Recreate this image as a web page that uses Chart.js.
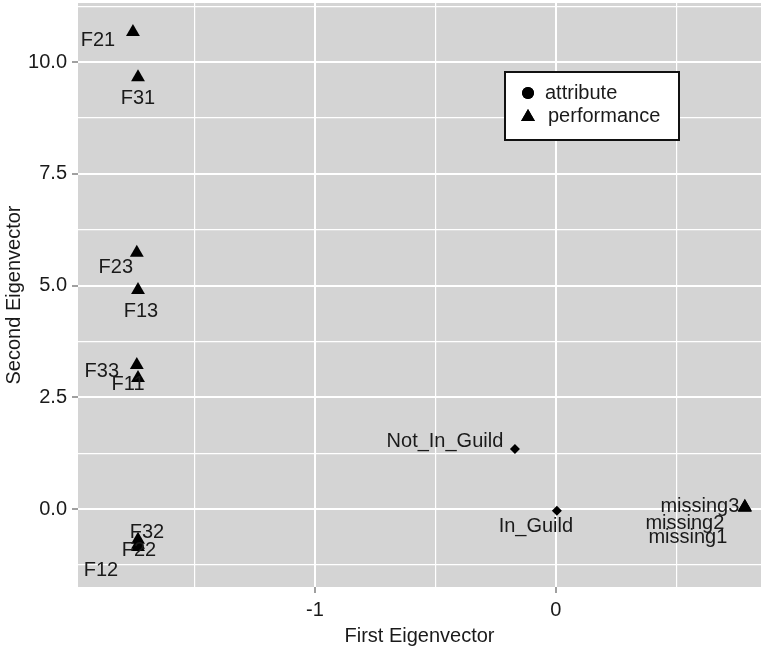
<!DOCTYPE html>
<html>
<head>
<meta charset="utf-8">
<script src="https://cdn.jsdelivr.net/npm/chart.js@4/dist/chart.umd.min.js"></script>
<style>
  html, body { margin: 0; padding: 0; background: #ffffff; }
  #wrap { width: 761px; height: 652px; }
</style>
</head>
<body>
<div id="wrap"><canvas id="c" width="761" height="652"></canvas></div>
<script>
// Performance factors and missing-value indicators (triangles)
const perfNames = ['F21', 'F31', 'F23', 'F13', 'F33', 'F11', 'F32', 'F22', 'F12', 'missing3', 'missing2', 'missing1'];
const perfX = [-1.755, -1.734, -1.739, -1.734, -1.739, -1.734, -1.734, -1.734, -1.734, 0.784, 0.784, 0.784];
const perfY = [10.67, 9.66, 5.73, 4.90, 3.22, 2.93, -0.69, -0.80, -0.85, 0.05, 0.04, 0.03];

// Guild membership levels (diamonds)
const guildNames = ['Not_In_Guild', 'In_Guild'];
const guildX = [-0.170, 0.004];
const guildY = [1.34, -0.04];

// Axis ticks: majors are labelled, minors only carry a grid line
const xTicks = [-1.5, -1, -0.5, 0, 0.5];
const xTickLabels = ['', '-1', '', '0', ''];
const yTicks = [-1.25, 0, 1.25, 2.5, 3.75, 5, 6.25, 7.5, 8.75, 10, 11.25];
const yTickLabels = ['', '0.0', '', '2.5', '', '5.0', '', '7.5', '', '10.0', ''];

// Legend entries
const legendLabels = ['attribute', 'performance'];
const legendShapes = ['circle', 'triangle'];

// Text placement of each point label relative to its marker (px)
const perfLabelShift = [[-35, 8], [0, 21], [-21, 15], [3, 22], [-35, 6], [-10, 6],
                        [9, -7], [1, 6], [-37, 23], [-45, 0], [-60, 16], [-57, 30]];
const guildLabelShift = [[-70, -8], [-21, 16]];

const FONT = "'Liberation Sans', Arial, Helvetica, sans-serif";
const FSIZE = 20;
const TEXT = '#1a1a1a';

function pts(xs, ys) { return xs.map((x, i) => ({ x: x, y: ys[i] })); }

const panelBg = {
  id: 'panelBg',
  beforeDraw(chart) {
    const { ctx, chartArea: a } = chart;
    ctx.save();
    ctx.fillStyle = '#d4d4d4';
    ctx.fillRect(a.left, a.top, a.right - a.left, a.bottom - a.top);
    ctx.restore();
  }
};

const pointLabels = {
  id: 'pointLabels',
  afterDatasetsDraw(chart) {
    const ctx = chart.ctx;
    ctx.save();
    ctx.font = FSIZE + 'px ' + FONT;
    ctx.fillStyle = TEXT;
    ctx.textAlign = 'center';
    ctx.textBaseline = 'middle';
    chart.data.datasets.forEach((ds, di) => {
      const meta = chart.getDatasetMeta(di);
      meta.data.forEach((el, i) => {
        const s = ds.labelShift[i];
        ctx.fillText(ds.names[i], el.x + s[0], el.y + s[1]);
      });
    });
    ctx.restore();
  }
};

const boxLegend = {
  id: 'boxLegend',
  afterDraw(chart) {
    const { ctx, chartArea: a } = chart;
    const left = a.left + 427, top = a.top + 69, w = 174, h = 68;
    ctx.save();
    ctx.fillStyle = '#ffffff';
    ctx.fillRect(left, top, w, h);
    ctx.strokeStyle = '#111111';
    ctx.lineWidth = 2;
    ctx.strokeRect(left, top, w, h);
    ctx.font = FSIZE + 'px ' + FONT;
    ctx.textBaseline = 'middle';
    legendLabels.forEach((lab, i) => {
      const cy = top + 21 + i * 23;
      ctx.fillStyle = '#000000';
      Chart.helpers.drawPoint(ctx, { pointStyle: legendShapes[i], radius: legendShapes[i] === 'circle' ? 6 : 8, borderWidth: 0 }, left + 23, cy + (i === 1 ? 1 : 0));
      ctx.fill();
      ctx.fillStyle = TEXT;
      ctx.fillText(lab, left + (i === 0 ? 40 : 43), cy);
    });
    ctx.restore();
  }
};

function majorOf(list, labels, v) { const k = list.indexOf(v); return k >= 0 && labels[k] !== ''; }
function noPad(s) { s.paddingTop = 0; s.paddingBottom = 0; s.paddingLeft = 0; s.paddingRight = 0; }

new Chart(document.getElementById('c'), {
  type: 'scatter',
  data: {
    datasets: [
      {
        label: 'performance',
        data: pts(perfX, perfY),
        names: perfNames,
        labelShift: perfLabelShift,
        pointStyle: 'triangle',
        pointRadius: 8,
        pointHoverRadius: 8,
        backgroundColor: '#000000',
        borderColor: '#000000',
        borderWidth: 0
      },
      {
        label: 'guild',
        data: pts(guildX, guildY),
        names: guildNames,
        labelShift: guildLabelShift,
        pointStyle: 'rectRot',
        pointRadius: 5,
        pointHoverRadius: 5,
        backgroundColor: '#000000',
        borderColor: '#000000',
        borderWidth: 0
      }
    ]
  },
  options: {
    responsive: false,
    animation: false,
    devicePixelRatio: 1,
    layout: { autoPadding: false, padding: { top: 3, right: 0, left: 0, bottom: 0 } },
    plugins: { legend: { display: false }, tooltip: { enabled: false } },
    scales: {
      x: {
        type: 'linear',
        min: -1.983,
        max: 0.851,
        afterBuildTicks: s => { s.ticks = xTicks.map(v => ({ value: v })); },
        afterFit: s => { s.height = 65; noPad(s); },
        ticks: {
          autoSkip: false,
          maxRotation: 0,
          padding: 5,
          color: TEXT,
          font: { family: FONT, size: FSIZE },
          callback: v => xTickLabels[xTicks.indexOf(v)]
        },
        grid: {
          color: '#ffffff',
          lineWidth: c => majorOf(xTicks, xTickLabels, c.tick.value) ? 2 : 1.2,
          tickColor: c => majorOf(xTicks, xTickLabels, c.tick.value) ? '#808080' : 'rgba(0,0,0,0)',
          tickLength: 6,
          tickWidth: 1.5
        },
        border: { display: false },
        title: { display: true, text: 'First Eigenvector', color: TEXT, font: { family: FONT, size: FSIZE }, padding: { top: 4, bottom: 4 } }
      },
      y: {
        type: 'linear',
        min: -1.745,
        max: 11.32,
        afterBuildTicks: s => { s.ticks = yTicks.map(v => ({ value: v })); },
        afterFit: s => { s.width = 78; noPad(s); },
        ticks: {
          autoSkip: false,
          padding: 5,
          color: TEXT,
          font: { family: FONT, size: FSIZE },
          callback: v => yTickLabels[yTicks.indexOf(v)]
        },
        grid: {
          color: '#ffffff',
          lineWidth: c => majorOf(yTicks, yTickLabels, c.tick.value) ? 2 : 1.2,
          tickColor: c => majorOf(yTicks, yTickLabels, c.tick.value) ? '#808080' : 'rgba(0,0,0,0)',
          tickLength: 6,
          tickWidth: 1.5
        },
        border: { display: false },
        title: { display: true, text: 'Second Eigenvector', color: TEXT, font: { family: FONT, size: FSIZE }, padding: { top: 2, bottom: 0 } }
      }
    }
  },
  plugins: [panelBg, pointLabels, boxLegend]
});
</script>
</body>
</html>
